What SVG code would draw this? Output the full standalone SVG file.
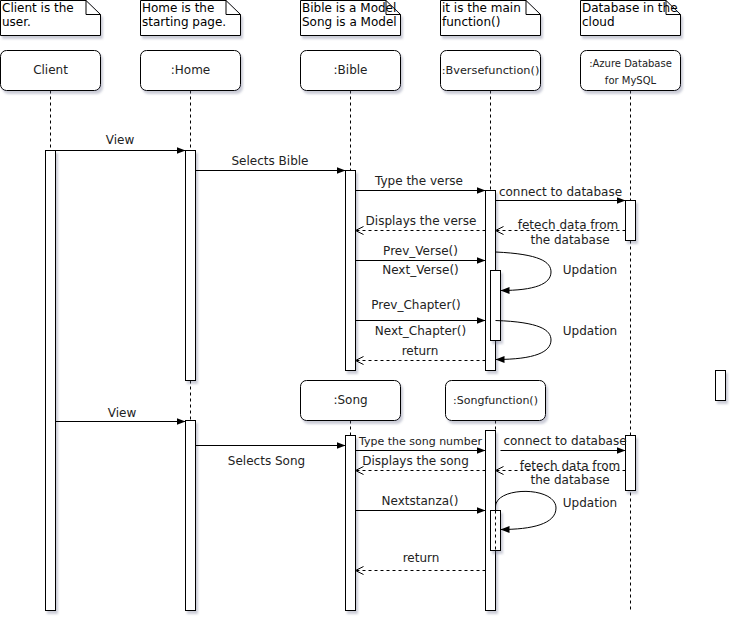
<svg xmlns="http://www.w3.org/2000/svg" width="737" height="622" viewBox="0 0 737 622">
<defs>
<filter id="sh" x="-30%" y="-30%" width="180%" height="180%"><feDropShadow dx="2" dy="3" stdDeviation="1.2" flood-color="#6b708f" flood-opacity="0.35"/></filter>
<marker id="blk" markerWidth="10" markerHeight="8" refX="9" refY="4" orient="auto" markerUnits="userSpaceOnUse"><path d="M0,0.5 L9,4 L0,7.5 Z" fill="#000"/></marker>
<marker id="opn" markerWidth="10" markerHeight="10" refX="9" refY="5" orient="auto" markerUnits="userSpaceOnUse"><path d="M1,1 L9,5 L1,9" fill="none" stroke="#000" stroke-width="1"/></marker>
</defs>
<style>
.note{fill:#fff;stroke:#000;stroke-width:1;filter:url(#sh)}
.fold{fill:none;stroke:#000;stroke-width:1}
.head{fill:#fff;stroke:#000;stroke-width:1;filter:url(#sh)}
.act{fill:#fff;stroke:#000;stroke-width:1;filter:url(#sh)}
.life{stroke:#000;stroke-width:1;stroke-dasharray:3 3;fill:none}
.msg{stroke:#000;stroke-width:1;fill:none;marker-end:url(#blk)}
.ret{stroke:#000;stroke-width:1;stroke-dasharray:3 3;fill:none;marker-end:url(#opn)}
text{font-family:"DejaVu Sans",Verdana,sans-serif;font-size:12px;fill:#222}
.c{text-anchor:middle}
.sm{font-size:11px}
.xs{font-size:10px}
.nt{fill:#000}
</style>

<g id="note-client">
<path class="note" d="M0.5,0.5 H86 L100.5,14.5 V35.5 H0.5 Z"/><path class="fold" d="M86,0.5 V14.5 H100.5"/>
<text class="nt" x="2" y="12">Client is the</text><text class="nt" x="2" y="26">user.</text>
</g>
<g id="note-home">
<path class="note" d="M140.5,0.5 H226 L240.5,14.5 V35.5 H140.5 Z"/><path class="fold" d="M226,0.5 V14.5 H240.5"/>
<text class="nt" x="142" y="12">Home is the</text><text class="nt" x="142" y="26">starting page.</text>
</g>
<g id="note-bible">
<path class="note" d="M300.5,0.5 H386 L400.5,14.5 V35.5 H300.5 Z"/><path class="fold" d="M386,0.5 V14.5 H400.5"/>
<text class="nt" x="302" y="12">Bible is a Model</text><text class="nt" x="302" y="26">Song is a Model</text>
</g>
<g id="note-bverse">
<path class="note" d="M440.5,0.5 H526 L540.5,14.5 V35.5 H440.5 Z"/><path class="fold" d="M526,0.5 V14.5 H540.5"/>
<text class="nt" x="442" y="12">it is the main</text><text class="nt" x="442" y="26">function()</text>
</g>
<g id="note-db">
<path class="note" d="M580.5,0.5 H666 L680.5,14.5 V35.5 H580.5 Z"/><path class="fold" d="M666,0.5 V14.5 H680.5"/>
<text class="nt" x="582" y="12">Database in the</text><text class="nt" x="582" y="26">cloud</text>
</g>

<g id="client">
<path class="life" d="M50.5,90.5 V150.5"/>
<rect class="head" x="0.5" y="50.5" width="100" height="40" rx="6"/>
<text class="c" x="50.5" y="74">Client</text>
<rect class="act" x="45.5" y="150.5" width="10" height="460"/>
</g>
<g id="home">
<path class="life" d="M190.5,90.5 V150.5 M190.5,380.5 V420.5"/>
<rect class="head" x="140.5" y="50.5" width="100" height="40" rx="6"/>
<text class="c" x="190.5" y="74">:Home</text>
<rect class="act" x="185.5" y="150.5" width="10" height="230"/>
<rect class="act" x="185.5" y="420.5" width="10" height="190"/>
</g>
<g id="bible">
<path class="life" d="M350.5,90.5 V170.5"/>
<rect class="head" x="300.5" y="50.5" width="100" height="40" rx="6"/>
<text class="c" x="350.5" y="74">:Bible</text>
<rect class="act" x="345.5" y="170.5" width="10" height="200"/>
</g>
<g id="bverse">
<path class="life" d="M490.5,90.5 V190.5"/>
<rect class="head" x="440.5" y="50.5" width="100" height="40" rx="6"/>
<text class="c" x="490.5" y="74" style="font-size:11.3px">:Bversefunction()</text>
<rect class="act" x="485.5" y="190.5" width="10" height="180"/>
<rect class="act" x="490.5" y="270.5" width="10" height="70"/>
</g>
<g id="azure">
<path class="life" d="M630.5,90.5 V610.5"/>
<rect class="head" x="580.5" y="50.5" width="100" height="40" rx="6"/>
<text class="c xs" x="630.5" y="66.5">:Azure Database</text>
<text class="c xs" x="630.5" y="83.5">for MySQL</text>
<rect class="act" x="625.5" y="200.5" width="10" height="40"/>
<rect class="act" x="625.5" y="435.5" width="10" height="55"/>
</g>
<g id="song">
<path class="life" d="M350.5,420.5 V435.5"/>
<rect class="head" x="300.5" y="380.5" width="100" height="40" rx="6"/>
<text class="c" x="350.5" y="404">:Song</text>
<rect class="act" x="345.5" y="435.5" width="10" height="175"/>
</g>
<g id="songfunction">
<path class="life" d="M495.5,420.5 V430.5"/>
<rect class="head" x="445.5" y="380.5" width="100" height="40" rx="6"/>
<text class="c sm" x="495.5" y="404">:Songfunction()</text>
<rect class="act" x="485.5" y="430.5" width="10" height="180"/>
<rect class="act" x="490.5" y="510.5" width="10" height="40"/>
<path class="life" d="M495.5,510.5 V550.5"/>
</g>
<g id="extra">
<rect class="act" x="715.5" y="370.5" width="10" height="30"/>
</g>

<g id="connectors">
<path class="msg" d="M55.5,150.5 H185.5"/>
<text class="c" x="120" y="144">View</text>
<path class="msg" d="M195.5,170.5 H345.5"/>
<text class="c" x="270" y="165">Selects Bible</text>
<path class="msg" d="M355.5,190.5 H485.5"/>
<text class="c" x="419" y="185">Type the verse</text>
<path class="msg" d="M495.5,200.5 H625.5"/>
<text class="c" x="560.5" y="196">connect to database</text>
<path class="ret" d="M625.5,230.5 H495.5"/>
<text class="c" x="568" y="229">fetech data from</text>
<text class="c" x="570" y="244">the database</text>
<path class="ret" d="M485.5,230.5 H355.5"/>
<text class="c" x="421" y="225">Displays the verse</text>
<path class="msg" d="M355.5,260.5 H485.5"/>
<text class="c" x="420.5" y="255">Prev_Verse()</text>
<text class="c" x="420.5" y="274">Next_Verse()</text>
<path class="msg" d="M495.5,252 C540,254 551,262 551,272 C551,284 535,290.5 500.5,290.5"/>
<text class="c" x="590" y="274">Updation</text>
<path class="msg" d="M355.5,320.5 H485.5"/>
<text class="c" x="416" y="309">Prev_Chapter()</text>
<text class="c" x="420.5" y="335">Next_Chapter()</text>
<path class="msg" d="M495.5,320.5 C540,322 551,330 551,340 C551,352 535,359.5 495.5,359.5"/>
<text class="c" x="590" y="335">Updation</text>
<path class="ret" d="M485.5,360.5 H355.5"/>
<text class="c" x="420" y="355">return</text>
<path class="msg" d="M55.5,421.5 H185.5"/>
<text class="c" x="122" y="417">View</text>
<path class="msg" d="M195.5,445.5 H345.5"/>
<text class="c" x="266.5" y="465">Selects Song</text>
<path class="msg" d="M355.5,450.5 H485.5"/>
<text class="c sm" x="420.5" y="445">Type the song number</text>
<path class="msg" d="M500.5,450.5 H625.5"/>
<text class="c" x="565" y="445">connect to database</text>
<path class="ret" d="M625.5,470.5 H495.5"/>
<text class="c" x="570" y="470">fetech data from</text>
<text class="c" x="570" y="484">the database</text>
<path class="ret" d="M485.5,470.5 H355.5"/>
<text class="c" x="415.5" y="465">Displays the song</text>
<path class="msg" d="M355.5,510.5 H485.5"/>
<text class="c" x="420" y="505">Nextstanza()</text>
<path class="msg" d="M495.5,507 C495,486 556,486 556,508 C556,524 532,529.5 500.5,529.5"/>
<text class="c" x="590" y="507">Updation</text>
<path class="ret" d="M485.5,570.5 H355.5"/>
<text class="c" x="421" y="562">return</text>
</g>
</svg>
